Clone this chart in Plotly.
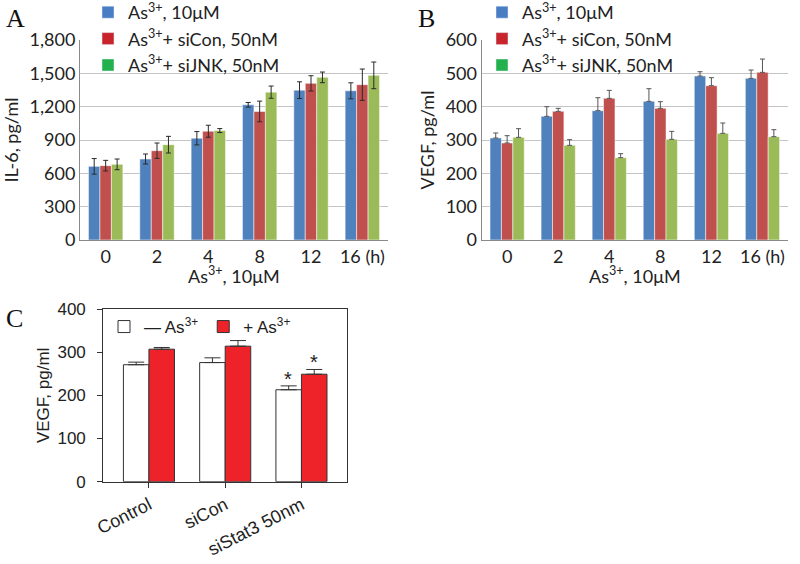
import plotly.graph_objects as go

# Panel A: IL-6 (pg/ml) over time with siRNA
hours = ["0", "2", "4", "8", "12", "16 (h)"]
il6_as = [663, 729, 916, 1217, 1349, 1343]
il6_as_err = [70, 45, 60, 21, 75, 72]
il6_sicon = [669, 804, 979, 1157, 1410, 1398]
il6_sicon_err = [48, 69, 54, 93, 69, 141]
il6_sijnk = [681, 858, 985, 1331, 1464, 1482]
il6_sijnk_err = [48, 75, 18, 55, 48, 120]

# Panel B: VEGF (pg/ml) over time with siRNA
vegf_as = [306, 371, 388, 416, 492, 485]
vegf_as_err = [15, 29, 39, 38, 13, 25]
vegf_sicon = [291, 386, 425, 395, 463, 503]
vegf_sicon_err = [22, 9, 24, 20, 24, 40]
vegf_sijnk = [308, 284, 247, 302, 320, 310]
vegf_sijnk_err = [26, 17, 12, 24, 31, 21]

# Panel C: VEGF with Stat3 knockdown
groups_c = ["Control", "siCon", "siStat3 50nm"]
vegf_minus = [271, 276, 213]
vegf_minus_err = [6, 11, 9]
vegf_plus = [307, 314, 249]
vegf_plus_err = [4, 13, 11]
sig_minus = ["", "", "*"]
sig_plus = ["", "", "*"]

series_names = [
    "As<sup>3+</sup>, 10μM",
    "As<sup>3+</sup>+ siCon, 50nM",
    "As<sup>3+</sup>+ siJNK, 50nM",
]
bar_colors = ["#4F81BD", "#C0504D", "#9BBB59"]
legend_colors = ["#4A7EC4", "#C8242B", "#22B14C"]

FONT_AB = "Lato"
FONT_C = "Liberation Sans"

fig = go.Figure()

# Panels A and B bars (legend handled by proxy traces)
panel_data = [
    ("x", "y", "legend", [il6_as, il6_sicon, il6_sijnk], [il6_as_err, il6_sicon_err, il6_sijnk_err], True),
    ("x2", "y2", "legend2", [vegf_as, vegf_sicon, vegf_sijnk], [vegf_as_err, vegf_sicon_err, vegf_sijnk_err], False),
]
for xa, ya, leg, vals, errs, symmetric in panel_data:
    for i, (v, e) in enumerate(zip(vals, errs)):
        err = {
            "type": "data",
            "array": e,
            "color": "#2a2a2a" if symmetric else "#555555",
            "thickness": 1,
            "width": 2.5,
        }
        if not symmetric:
            err["symmetric"] = False
            err["arrayminus"] = [0] * len(e)
        fig.add_trace(
            go.Bar(
                x=hours,
                y=v,
                xaxis=xa,
                yaxis=ya,
                offsetgroup=str(i),
                marker={"color": bar_colors[i], "line": {"color": "white", "width": 0.5}},
                error_y=err,
                showlegend=False,
            )
        )
        # legend proxy sharing the same offset group, so it takes no extra slot
        fig.add_trace(
            go.Bar(
                x=[None],
                y=[None],
                xaxis=xa,
                yaxis=ya,
                offsetgroup=str(i),
                name=series_names[i],
                legend=leg,
                legendgroup=f"{leg}{i}",
                marker={"color": legend_colors[i]},
            )
        )

# Panel C
for name, vals, errs, color in [
    ("— As<sup>3+</sup>", vegf_minus, vegf_minus_err, "white"),
    ("+ As<sup>3+</sup>", vegf_plus, vegf_plus_err, "#EE2229"),
]:
    fig.add_trace(
        go.Bar(
            x=groups_c,
            y=vals,
            xaxis="x3",
            yaxis="y3",
            name=name,
            legend="legend3",
            marker={"color": color, "line": {"color": "#333333", "width": 1}},
            error_y={"type": "data", "array": errs, "symmetric": False,
                     "arrayminus": [0] * len(errs), "color": "#333333",
                     "thickness": 1, "width": 8},
        )
    )

# significance stars
for sig, vals, errs, shift in [
    (sig_minus, vegf_minus, vegf_minus_err, -13),
    (sig_plus, vegf_plus, vegf_plus_err, 13),
]:
    for g, s, v, e in zip(groups_c, sig, vals, errs):
        if s:
            fig.add_annotation(
                x=g, y=v + e, xref="x3", yref="y3", text=s, showarrow=False,
                xshift=shift, yanchor="bottom", yshift=-6,
                font={"family": FONT_C, "size": 20, "color": "#222"},
            )

# panel letters
for letter, px, py in [("A", 4, 2), ("B", 416, 2), ("C", 4, 302)]:
    fig.add_annotation(
        x=px / 800, y=1 - py / 564, xref="paper", yref="paper",
        xanchor="left", yanchor="top", text=letter, showarrow=False,
        font={"family": "Liberation Serif", "size": 26, "color": "#111"},
    )

ab_tick_font = {"family": FONT_AB, "size": 18, "color": "#222"}

# x-axis titles for A and B
for xref in ["x domain", "x2 domain"]:
    fig.add_annotation(
        x=0.5, y=1 - 275 / 564, xref=xref, yref="paper", text="As<sup>3+</sup>, 10μM",
        showarrow=False, yanchor="middle", font=ab_tick_font,
    )

ab_x = dict(
    type="category", tickfont=ab_tick_font, showline=True, linecolor="#8a8a8a",
    linewidth=1, ticks="", showgrid=False, automargin=False,
)
ab_y = dict(
    showline=True, linecolor="#8a8a8a", linewidth=1, ticks="", showgrid=True,
    gridcolor="#C4C4C4", gridwidth=1, tickfont=ab_tick_font, zeroline=False,
    automargin=False,
)
c_font = {"family": FONT_C, "size": 17, "color": "#222"}

fig.update_layout(
    width=800,
    height=564,
    margin={"l": 0, "r": 0, "t": 0, "b": 0, "autoexpand": False},
    paper_bgcolor="white",
    plot_bgcolor="white",
    barmode="group",
    bargap=0.33,
    bargroupgap=0,
    font={"family": FONT_AB, "color": "#222"},
    xaxis=dict(ab_x, domain=[0.1, 0.485], anchor="y"),
    yaxis=dict(ab_y, domain=[0.5745, 0.929], anchor="x", range=[0, 1800], dtick=300,
               tickformat=",", title={"text": "IL-6, pg/ml", "font": ab_tick_font, "standoff": 6}),
    xaxis2=dict(ab_x, domain=[0.602, 0.985], anchor="y2"),
    yaxis2=dict(ab_y, domain=[0.5745, 0.929], anchor="x2", range=[0, 600], dtick=100,
                title={"text": "VEGF, pg/ml", "font": ab_tick_font, "standoff": 6}),
    xaxis3=dict(
        domain=[0.129, 0.434], anchor="y3", type="category", range=[-0.6, 2.6],
        showline=True, mirror=True, linecolor="#333", linewidth=1, ticks="outside",
        ticklen=5, tickcolor="#333", tickangle=-27, ticklabelstandoff=0,
        tickfont={"family": FONT_C, "size": 18, "color": "#222"}, automargin=False,
    ),
    yaxis3=dict(
        domain=[0.146, 0.452], anchor="x3", range=[0, 400], dtick=100, showline=True,
        mirror=True, linecolor="#333", linewidth=1, ticks="outside", ticklen=5,
        tickcolor="#333", showgrid=False, zeroline=False, tickfont=c_font,
        ticklabelstandoff=8, automargin=False,
        title={"text": "VEGF, pg/ml", "font": c_font, "standoff": 3},
    ),
    legend=dict(
        x=88 / 800, y=1 + 6 / 564, xanchor="left", yanchor="top", bgcolor="rgba(0,0,0,0)",
        font={"family": FONT_AB, "size": 18, "color": "#222"}, tracegroupgap=0,
    ),
    legend2=dict(
        x=482 / 800, y=1 + 6 / 564, xanchor="left", yanchor="top", bgcolor="rgba(0,0,0,0)",
        font={"family": FONT_AB, "size": 18, "color": "#222"}, tracegroupgap=0,
    ),
    legend3=dict(
        x=104 / 800, y=1 - 309 / 564, xanchor="left", yanchor="top", orientation="h",
        bgcolor="rgba(0,0,0,0)", font=c_font,
    ),
)

fig.write_html(
    "out.html",
    config={"displayModeBar": False},
    post_script="document.body.style.margin = '0';",
)
